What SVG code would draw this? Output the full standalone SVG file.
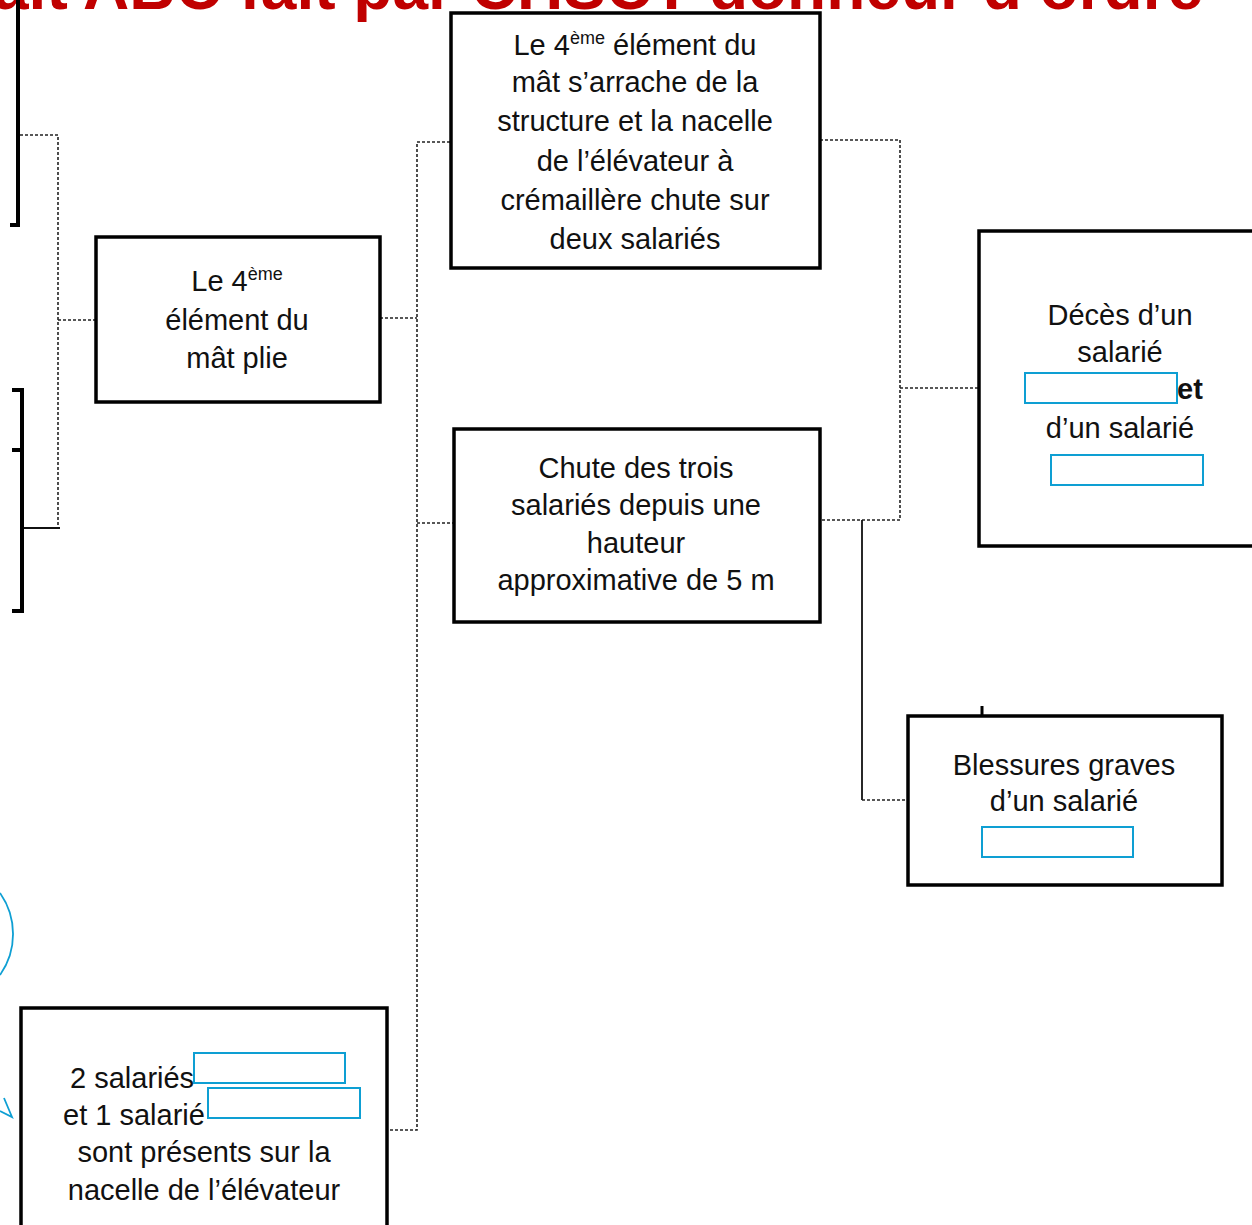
<svg xmlns="http://www.w3.org/2000/svg" width="1252" height="1225" viewBox="0 0 1252 1225">
<style>
.box{fill:#fff;stroke:#000;stroke-width:3.5}
.t{font-family:"Liberation Sans",Arial,sans-serif;font-size:29px;fill:#111;text-anchor:middle}
.ts{font-family:"Liberation Sans",Arial,sans-serif;font-size:29px;fill:#111}
.sup{font-size:18px}
.dot{fill:none;stroke:#222;stroke-width:1.6;stroke-dasharray:3 2}
.sol{fill:none;stroke:#111;stroke-width:1.8}
.blue{fill:#fff;stroke:#0e9fd3;stroke-width:2}
.edge{fill:none;stroke:#000;stroke-width:4}
</style>
<rect width="1252" height="1225" fill="#fff"/>
<text x="-7" y="9" font-family="Liberation Sans,Arial,sans-serif" font-size="64" font-weight="bold" fill="#c00000">ait ABC fait par CHSCT donneur d’ordre</text>

<g id="connectors">
  <path class="dot" d="M20 135 H58 V528"/>
  <path class="dot" d="M58 320 H95"/>
  <path class="sol" d="M22 528 H60"/>
  <path class="dot" d="M380 318 H417"/>
  <path class="dot" d="M450 142 H417 V1130 H387"/>
  <path class="dot" d="M417 523 H453"/>
  <path class="dot" d="M820 140 H900 V520 H820"/>
  <path class="dot" d="M900 388 H978"/>
  <path class="sol" d="M862 520 V800"/>
  <path class="dot" d="M862 800 H907"/>
</g>

<g id="left-box-top">
  <path class="edge" d="M18 0 V225 H10"/>
</g>
<g id="left-box-bottom">
  <path class="edge" d="M12 390 H22 V611 H12"/>
  <path class="edge" d="M12 450 H22"/>
</g>

<g id="node-mat-plie">
  <rect class="box" x="96" y="237" width="284" height="165"/>
  <text class="t" x="237" y="291">Le  4<tspan class="sup" dy="-11">ème</tspan></text>
  <text class="t" x="237" y="330">élément du</text>
  <text class="t" x="237" y="368">mât  plie</text>
</g>

<g id="node-arrache">
  <rect class="box" x="451" y="13" width="369" height="255"/>
  <text class="t" x="635" y="55">Le  4<tspan class="sup" dy="-11">ème</tspan><tspan dy="11"> élément du</tspan></text>
  <text class="t" x="635" y="92">mât  s’arrache de la</text>
  <text class="t" x="635" y="131">structure et la nacelle</text>
  <text class="t" x="635" y="171">de l’élévateur  à</text>
  <text class="t" x="635" y="210">crémaillère chute sur</text>
  <text class="t" x="635" y="249">deux salariés</text>
</g>

<g id="node-chute">
  <rect class="box" x="454" y="429" width="366" height="193"/>
  <text class="t" x="636" y="478">Chute des trois</text>
  <text class="t" x="636" y="515">salariés depuis une</text>
  <text class="t" x="636" y="553">hauteur</text>
  <text class="t" x="636" y="590">approximative de 5 m</text>
</g>

<g id="node-deces">
  <rect class="box" x="979" y="231" width="290" height="315"/>
  <text class="t" x="1120" y="325">Décès d’un</text>
  <text class="t" x="1120" y="362">salarié</text>
  <text class="ts" x="1177" y="399" font-weight="bold">et</text>
  <rect class="blue" x="1025" y="373" width="152" height="30"/>
  <text class="t" x="1120" y="438">d’un  salarié</text>
  <rect class="blue" x="1051" y="455" width="152" height="30"/>
</g>

<g id="node-blessures">
  <path d="M982 706 V716" stroke="#000" stroke-width="3"/>
  <rect class="box" x="908" y="716" width="314" height="169"/>
  <text class="t" x="1064" y="775">Blessures graves</text>
  <text class="t" x="1064" y="811">d’un salarié</text>
  <rect class="blue" x="982" y="827" width="151" height="30"/>
</g>

<g id="node-salaries">
  <rect class="box" x="21" y="1008" width="366" height="240"/>
  <text class="ts" x="70" y="1088">2 salariés</text>
  <text class="ts" x="63" y="1125">et  1 salarié</text>
  <rect class="blue" x="194" y="1053" width="151" height="30"/>
  <rect class="blue" x="208" y="1088" width="152" height="30"/>
  <text class="t" x="204" y="1162">sont présents sur la</text>
  <text class="t" x="204" y="1200">nacelle de l’élévateur</text>
</g>

<g id="annotation">
  <path d="M0 893 A71 71 0 0 1 0 975" fill="none" stroke="#0e9fd3" stroke-width="1.8"/>
  <path d="M4 1098 L12 1117 L0 1111" fill="none" stroke="#0e9fd3" stroke-width="1.8"/>
</g>
</svg>
